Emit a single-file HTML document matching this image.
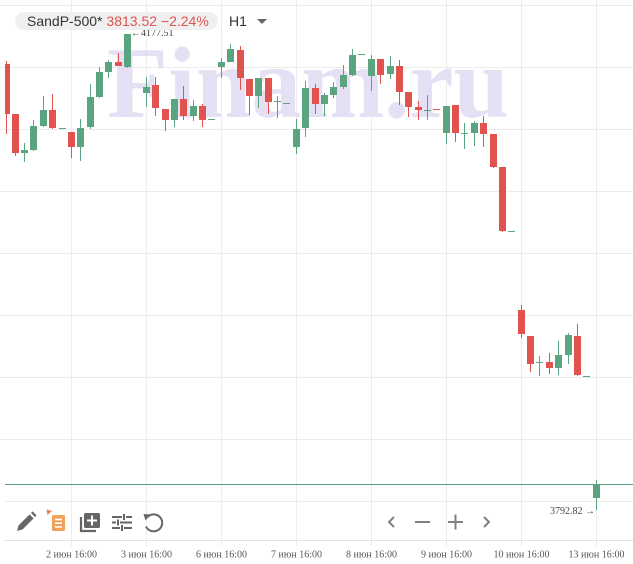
<!DOCTYPE html>
<html><head><meta charset="utf-8">
<style>
html,body{margin:0;padding:0;background:#fff;}
body{width:633px;height:564px;overflow:hidden;position:relative;}
svg{position:absolute;left:0;top:0;}
</style></head>
<body>
<svg width="633" height="564" viewBox="0 0 633 564" xmlns="http://www.w3.org/2000/svg">
<defs><clipPath id="c"><rect x="5" y="0" width="628" height="540"/></clipPath></defs>
<!-- grid -->
<g stroke="#ececec" stroke-width="1" shape-rendering="crispEdges">
<line x1="0" y1="5.5" x2="633" y2="5.5"/>
<line x1="0" y1="67.5" x2="633" y2="67.5"/>
<line x1="0" y1="129.5" x2="633" y2="129.5"/>
<line x1="0" y1="191.5" x2="633" y2="191.5"/>
<line x1="0" y1="253.5" x2="633" y2="253.5"/>
<line x1="0" y1="315.5" x2="633" y2="315.5"/>
<line x1="0" y1="377.5" x2="633" y2="377.5"/>
<line x1="0" y1="439.5" x2="633" y2="439.5"/>
<line x1="5" y1="501.5" x2="633" y2="501.5"/>
<line x1="71.5" y1="0" x2="71.5" y2="546"/>
<line x1="146.5" y1="0" x2="146.5" y2="546"/>
<line x1="221.5" y1="0" x2="221.5" y2="546"/>
<line x1="296.5" y1="0" x2="296.5" y2="546"/>
<line x1="371.5" y1="0" x2="371.5" y2="546"/>
<line x1="446.5" y1="0" x2="446.5" y2="546"/>
<line x1="521.5" y1="0" x2="521.5" y2="546"/>
<line x1="596.5" y1="0" x2="596.5" y2="546"/>
</g>
<line x1="5" y1="540.5" x2="633" y2="540.5" stroke="#e2e2e2" shape-rendering="crispEdges"/>
<!-- watermark -->
<text x="107" y="117" font-family="'Liberation Serif', serif" font-weight="bold" font-size="102" fill="#e2daf2" fill-opacity="0.85" textLength="402" lengthAdjust="spacingAndGlyphs">Finam.ru</text>
<!-- price line -->
<line x1="5" y1="484.5" x2="633" y2="484.5" stroke="#5b9f83" stroke-width="1" shape-rendering="crispEdges"/>
<!-- candles -->
<g clip-path="url(#c)" shape-rendering="crispEdges">
<g fill="#e0534f">
<rect x="6" y="61" width="1" height="73"/><rect x="3" y="64" width="7" height="50"/>
<rect x="15" y="114" width="1" height="42"/><rect x="12" y="114" width="7" height="39"/>
<rect x="52" y="94" width="1" height="35"/><rect x="49" y="110" width="7" height="18"/>
<rect x="71" y="132" width="1" height="26"/><rect x="68" y="132" width="7" height="15"/>
<rect x="118" y="53" width="1" height="13"/><rect x="115" y="62" width="7" height="4"/>
<rect x="155" y="77" width="1" height="39"/><rect x="152" y="85" width="7" height="23"/>
<rect x="165" y="109" width="1" height="22"/><rect x="162" y="109" width="7" height="11"/>
<rect x="183" y="86" width="1" height="34"/><rect x="180" y="99" width="7" height="17"/>
<rect x="202" y="104" width="1" height="23"/><rect x="199" y="106" width="7" height="14"/>
<rect x="240" y="46" width="1" height="44"/><rect x="237" y="50" width="7" height="28"/>
<rect x="249" y="79" width="1" height="36"/><rect x="246" y="79" width="7" height="17"/>
<rect x="268" y="78" width="1" height="36"/><rect x="265" y="78" width="7" height="24"/>
<rect x="315" y="84" width="1" height="30"/><rect x="312" y="88" width="7" height="16"/>
<rect x="380" y="59" width="1" height="25"/><rect x="377" y="59" width="7" height="16"/>
<rect x="399" y="60" width="1" height="45"/><rect x="396" y="66" width="7" height="26"/>
<rect x="408" y="92" width="1" height="25"/><rect x="405" y="92" width="7" height="15"/>
<rect x="418" y="101" width="1" height="19"/><rect x="415" y="107" width="7" height="3"/>
<rect x="433" y="109" width="7" height="1"/>
<rect x="455" y="105" width="1" height="37"/><rect x="452" y="105" width="7" height="28"/>
<rect x="483" y="116" width="1" height="31"/><rect x="480" y="123" width="7" height="11"/>
<rect x="493" y="134" width="1" height="34"/><rect x="490" y="134" width="7" height="33"/>
<rect x="502" y="167" width="1" height="65"/><rect x="499" y="167" width="7" height="64"/>
<rect x="521" y="305" width="1" height="33"/><rect x="518" y="310" width="7" height="24"/>
<rect x="530" y="336" width="1" height="36"/><rect x="527" y="336" width="7" height="28"/>
<rect x="549" y="353" width="1" height="21"/><rect x="546" y="362" width="7" height="6"/>
<rect x="577" y="324" width="1" height="52"/><rect x="574" y="336" width="7" height="39"/>
</g>
<g fill="#5aa47f">
<rect x="24" y="143" width="1" height="19"/><rect x="21" y="150" width="7" height="3"/>
<rect x="33" y="120" width="1" height="31"/><rect x="30" y="126" width="7" height="24"/>
<rect x="43" y="96" width="1" height="31"/><rect x="40" y="110" width="7" height="16"/>
<rect x="59" y="128" width="7" height="1"/>
<rect x="80" y="119" width="1" height="42"/><rect x="77" y="128" width="7" height="19"/>
<rect x="90" y="84" width="1" height="45"/><rect x="87" y="97" width="7" height="30"/>
<rect x="99" y="67" width="1" height="31"/><rect x="96" y="72" width="7" height="25"/>
<rect x="108" y="60" width="1" height="18"/><rect x="105" y="62" width="7" height="10"/>
<rect x="127" y="34" width="1" height="34"/><rect x="124" y="34" width="7" height="33"/>
<rect x="146" y="77" width="1" height="30"/><rect x="143" y="87" width="7" height="6"/>
<rect x="174" y="99" width="1" height="28"/><rect x="171" y="99" width="7" height="21"/>
<rect x="193" y="100" width="1" height="21"/><rect x="190" y="106" width="7" height="10"/>
<rect x="208" y="119" width="7" height="1"/>
<rect x="221" y="58" width="1" height="20"/><rect x="218" y="62" width="7" height="5"/>
<rect x="230" y="44" width="1" height="18"/><rect x="227" y="49" width="7" height="13"/>
<rect x="258" y="78" width="1" height="30"/><rect x="255" y="78" width="7" height="18"/>
<rect x="277" y="96" width="1" height="22"/><rect x="274" y="101" width="7" height="1"/>
<rect x="283" y="103" width="7" height="1"/>
<rect x="296" y="119" width="1" height="35"/><rect x="293" y="129" width="7" height="18"/>
<rect x="305" y="81" width="1" height="56"/><rect x="302" y="88" width="7" height="40"/>
<rect x="324" y="93" width="1" height="23"/><rect x="321" y="95" width="7" height="9"/>
<rect x="333" y="82" width="1" height="16"/><rect x="330" y="87" width="7" height="8"/>
<rect x="343" y="65" width="1" height="24"/><rect x="340" y="75" width="7" height="12"/>
<rect x="352" y="49" width="1" height="27"/><rect x="349" y="55" width="7" height="20"/>
<rect x="358" y="54" width="7" height="1"/>
<rect x="371" y="55" width="1" height="36"/><rect x="368" y="59" width="7" height="17"/>
<rect x="390" y="56" width="1" height="23"/><rect x="387" y="66" width="7" height="8"/>
<rect x="427" y="95" width="1" height="25"/><rect x="424" y="110" width="7" height="1"/>
<rect x="446" y="106" width="1" height="38"/><rect x="443" y="106" width="7" height="27"/>
<rect x="464" y="123" width="1" height="26"/><rect x="461" y="133" width="7" height="1"/>
<rect x="474" y="121" width="1" height="25"/><rect x="471" y="123" width="7" height="10"/>
<rect x="508" y="231" width="7" height="1"/>
<rect x="539" y="356" width="1" height="20"/><rect x="536" y="362" width="7" height="1"/>
<rect x="558" y="341" width="1" height="34"/><rect x="555" y="355" width="7" height="13"/>
<rect x="568" y="333" width="1" height="31"/><rect x="565" y="335" width="7" height="20"/>
<rect x="583" y="376" width="7" height="1"/>
<rect x="596" y="480" width="1" height="30"/><rect x="593" y="484" width="7" height="14"/>
</g>
</g>
<!-- extreme labels -->
<text x="131" y="36" font-family="'Liberation Serif', serif" font-size="10" fill="#444">←4177.51</text>
<text x="550" y="514" font-family="'Liberation Serif', serif" font-size="10" fill="#444">3792.82 →</text>
<!-- header pill -->
<rect x="15" y="12" width="203" height="18" rx="9" ry="9" fill="#f0f0f0"/>
<text x="27" y="26" font-family="'Liberation Sans', sans-serif" font-size="14" fill="#333">SandP-500* <tspan fill="#e0534f">3813.52 −2.24%</tspan></text>
<text x="229" y="26" font-family="'Liberation Sans', sans-serif" font-size="14" fill="#333">H1</text>
<polygon points="257,19 267,19 262,24" fill="#666"/>
<!-- toolbar icons -->
<g fill="#666">
<path d="M17 531 L18.6 525.4 L29.6 514.4 L33.6 518.4 L22.6 529.4 Z"/>
<path d="M31 513 L32.6 511.4 L36.6 515.4 L35 517 Z"/>
</g>
<polygon points="46.5,509.5 52,511 47.5,515" fill="#e8825a"/>
<rect x="52" y="515" width="13" height="16" rx="1.5" fill="#f0a15c"/>
<g stroke="#fff" stroke-width="1.6">
<line x1="55" y1="519.5" x2="62" y2="519.5"/>
<line x1="55" y1="523.2" x2="62" y2="523.2"/>
<line x1="55" y1="526.9" x2="62" y2="526.9"/>
</g>
<path d="M81 517 L81 531 L96 531" fill="none" stroke="#666" stroke-width="2.2"/>
<rect x="84" y="513" width="16" height="15" rx="1.5" fill="#666"/>
<g stroke="#fff" stroke-width="2"><line x1="92" y1="515.5" x2="92" y2="525.5"/><line x1="87" y1="520.5" x2="97" y2="520.5"/></g>
<g stroke="#666" stroke-width="2" fill="none">
<line x1="112" y1="517" x2="122" y2="517"/><line x1="126" y1="517" x2="132" y2="517"/><line x1="124" y1="514" x2="124" y2="520"/>
<line x1="112" y1="522.5" x2="116" y2="522.5"/><line x1="120" y1="522.5" x2="132" y2="522.5"/><line x1="118" y1="519.5" x2="118" y2="525.5"/>
<line x1="112" y1="528" x2="120" y2="528"/><line x1="124" y1="528" x2="132" y2="528"/><line x1="122" y1="525" x2="122" y2="531"/>
<path d="M147.5 517 A8.5 8.5 0 1 1 146 526.5"/>
</g>
<polygon points="143.5,514 150.5,514.5 145.5,520.5" fill="#666"/>
<!-- nav -->
<g stroke="#808080" stroke-width="2" fill="none">
<polyline points="394,517 389,522 394,527"/>
<line x1="415" y1="522" x2="430" y2="522"/>
<line x1="448" y1="522" x2="463" y2="522"/><line x1="455.5" y1="514.5" x2="455.5" y2="529.5"/>
<polyline points="484,517 489,522 484,527"/>
</g>
<!-- x labels -->
<g font-family="'Liberation Serif', serif" font-size="10" fill="#555" text-anchor="middle">
<text x="71.5" y="557.5">2 июн 16:00</text>
<text x="146.5" y="557.5">3 июн 16:00</text>
<text x="221.5" y="557.5">6 июн 16:00</text>
<text x="296.5" y="557.5">7 июн 16:00</text>
<text x="371.5" y="557.5">8 июн 16:00</text>
<text x="446.5" y="557.5">9 июн 16:00</text>
<text x="521.5" y="557.5">10 июн 16:00</text>
<text x="596.5" y="557.5">13 июн 16:00</text>
</g>
</svg>
</body></html>
